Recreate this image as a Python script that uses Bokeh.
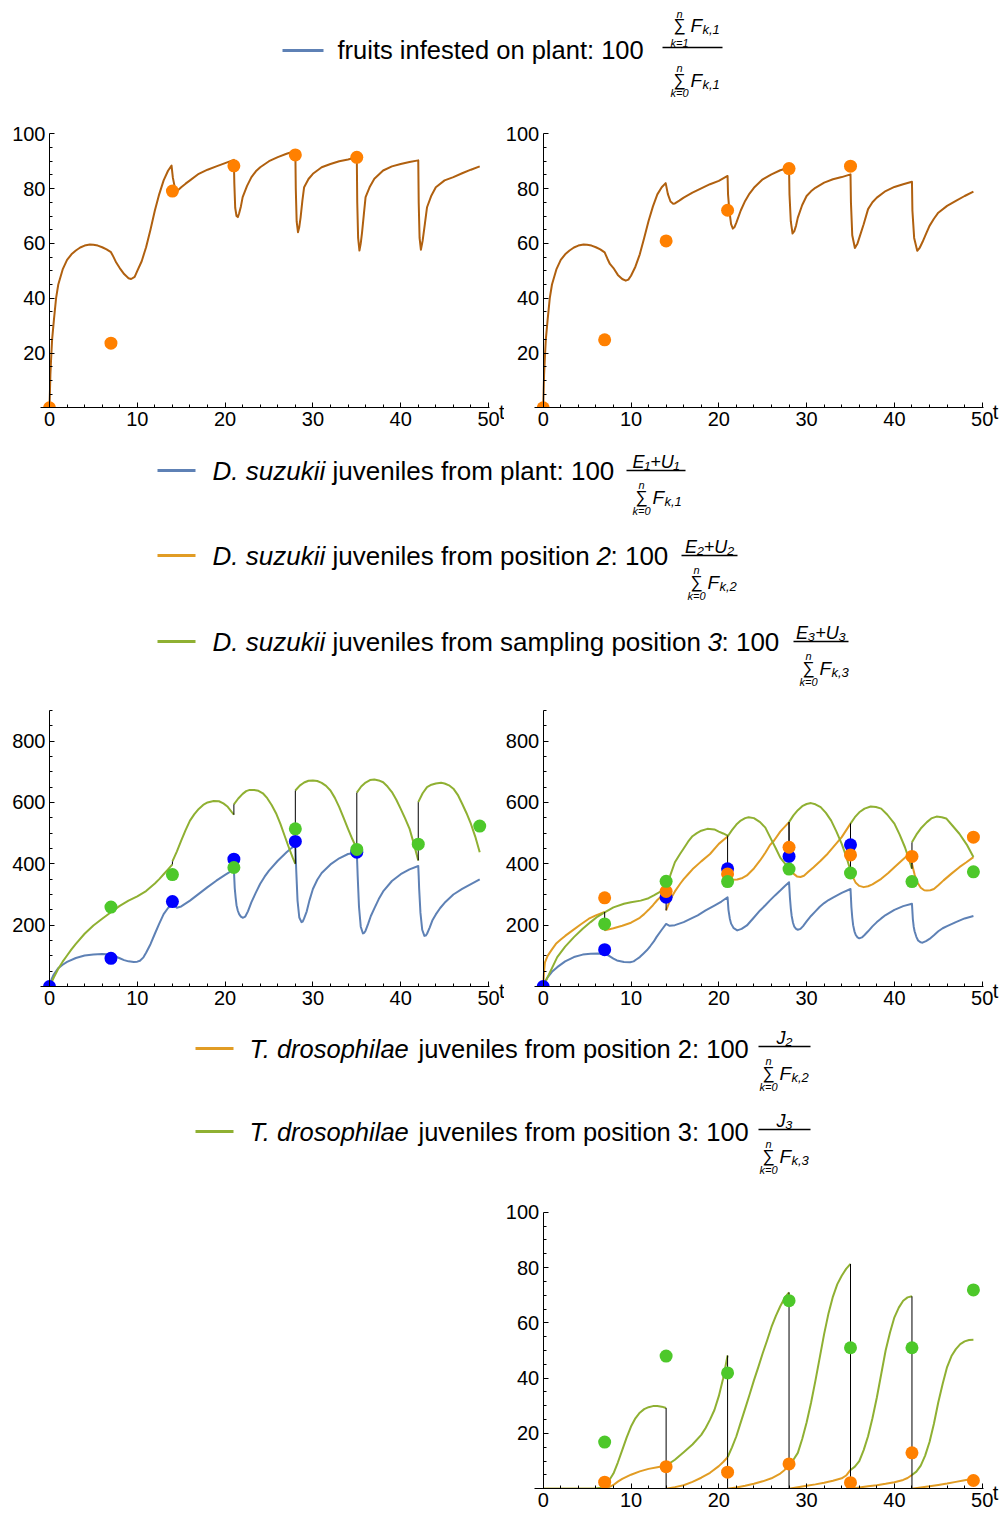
import numpy as np
from bokeh.plotting import figure
from bokeh.models import Range1d, FixedTicker, Label, Spacer
from bokeh.layouts import column, row
from bokeh.core.properties import value
from bokeh.embed import file_html
from bokeh.resources import INLINE

FONT = "Liberation Sans"

BLUE_LINE = "#5E81B5"
ORANGE_LINE = "#E19C24"
GREEN_LINE = "#8FB032"
BROWN_LINE = "#B0600F"
ORANGE_PT = "#FF8000"
BLUE_PT = "#0000FF"
GREEN_PT = "#4DC82A"

# ---------------- ticks ----------------
X_MAJOR = [0, 10, 20, 30, 40, 50]
X_MINOR = [2, 4, 6, 8, 12, 14, 16, 18, 22, 24, 26, 28, 32, 34, 36, 38, 42, 44, 46, 48]
Y100_MAJOR = [20, 40, 60, 80, 100]
Y100_MINOR = [5, 10, 15, 25, 30, 35, 45, 50, 55, 65, 70, 75, 85, 90, 95]
Y900_MAJOR = [200, 400, 600, 800]
Y900_MINOR = [50, 100, 150, 250, 300, 350, 450, 500, 550, 650, 700, 750, 850, 900]

# ---------------- sampling data ----------------
SAMPLE_T6 = [0, 7, 14, 21, 28, 35]
SAMPLE_T7 = [7, 14, 21, 28, 35, 42, 49]

R1L_PTS = [0, 23.6, 79.1, 88.3, 92.3, 91.4]
R1R_PTS = [0, 24.8, 60.9, 72.1, 87.3, 88.2]
R2L_BLUE_PTS = [0, 92, 277, 415, 473, 438]
R2L_GREEN_PTS = [259, 365, 388, 514, 447, 464, 523]
R2R_BLUE_PTS = [0, 120, 291, 384, 424, 462]
R2R_ORANGE_PTS = [289, 310, 367, 454, 429, 424, 487]
R2R_GREEN_PTS = [204, 343, 342, 383, 370, 342, 374]
R3_GREEN_PTS = [16.9, 48, 41.9, 68, 51, 51, 71.9]
R3_ORANGE_PTS = [2.4, 8, 6, 9, 2.2, 13, 3]

# ---------------- model curves (t, value) ----------------
R1L_CURVE = [(0, 0), (0.05, 6), (0.1, 12), (0.2, 19), (0.3, 25), (0.5, 32), (0.75, 40), (1, 45), (1.5, 50.5),
             (2, 54), (2.5, 56), (3, 57.4), (3.5, 58.5), (4, 59.2), (4.6, 59.6), (5, 59.5), (5.5, 59.2),
             (6, 58.6), (6.5, 57.8), (7, 56.8), (7.3, 55), (7.6, 53), (8, 51), (8.5, 48.8), (9, 47.3),
             (9.3, 47), (9.7, 47.8), (10, 50), (10.5, 53.5), (11, 58.6), (11.5, 65), (12, 72), (12.5, 78),
             (13, 83), (13.5, 86.5), (13.9, 88.4), (14.05, 84), (14.3, 80), (14.6, 79.3), (15, 80.5),
             (15.5, 81.8), (16, 83), (17, 85.4), (18, 86.9), (19, 88.1), (20, 89.3), (21, 90.5), (21.05, 82),
             (21.15, 73), (21.3, 70), (21.45, 69.6), (21.6, 71), (21.8, 73.5), (22, 76.9), (22.5, 81),
             (23, 84.2), (23.5, 86.3), (24, 87.8), (25, 90), (26, 91.5), (27, 92.7), (28, 93.7), (28.05, 80),
             (28.15, 68), (28.3, 64.1), (28.45, 66), (28.6, 69.5), (28.8, 75.5), (29, 80.5), (29.5, 83.5),
             (30, 85.4), (31, 87.8), (32, 89), (33, 90), (34, 90.6), (35, 91.5), (35.05, 75), (35.15, 62),
             (35.3, 57.4), (35.45, 60), (35.6, 64), (35.8, 70.5), (36, 76.9), (36.5, 80.8), (37, 83.6),
             (38, 86.6), (39, 88.1), (40, 89), (41, 89.7), (42, 90.3), (42.05, 75), (42.15, 62), (42.3, 57.7),
             (42.5, 61), (42.75, 67), (43, 73.2), (43.5, 77.5), (44, 80.5), (45, 83), (46, 84.2), (47, 85.6),
             (48, 86.9), (49, 88.1)]

R1R_CURVE = [(0, 0), (0.05, 6), (0.1, 12), (0.2, 19), (0.3, 25), (0.5, 32), (0.75, 40), (1, 45), (1.5, 50.5),
             (2, 54), (2.5, 56), (3, 57.4), (3.5, 58.5), (4, 59.2), (4.6, 59.6), (5, 59.5), (5.5, 59.2),
             (6, 58.6), (6.5, 57.8), (7, 56.7), (7.3, 54.5), (7.6, 52.5), (8, 51), (8.5, 48.5), (9, 47),
             (9.4, 46.4), (9.7, 46.8), (10, 48.2), (10.5, 51.5), (11, 56), (11.5, 62), (12, 68.2), (12.5, 73.5),
             (13, 77.9), (13.5, 80.5), (13.95, 82), (14.2, 78), (14.5, 75.3), (14.8, 74.5), (15, 74.6),
             (15.5, 75.6), (16, 76.7), (17, 78.5), (18, 80.1), (19, 81.6), (20, 82.8), (21, 84.6), (21.05, 78),
             (21.2, 72), (21.4, 67), (21.6, 65.4), (21.8, 66), (22, 67.6), (22.5, 72), (23, 75.5), (23.5, 78.2),
             (24, 80.3), (25, 83.4), (26, 85.2), (27, 86.7), (28, 87.6), (28.05, 78), (28.2, 68), (28.4, 63.6),
             (28.6, 64.5), (28.8, 66.5), (29, 69.4), (29.5, 74), (30, 77.3), (30.5, 79), (31, 80.3), (32, 82.2),
             (33, 83.4), (34, 84.2), (35, 85.2), (35.05, 75), (35.2, 63), (35.5, 58.3), (35.8, 60), (36, 62),
             (36.5, 67), (37, 72.5), (37.5, 75), (38, 76.7), (39, 79.1), (40, 80.6), (41, 81.6), (42, 82.5),
             (42.05, 72), (42.25, 62), (42.6, 57.3), (42.9, 58.5), (43.2, 60.5), (43.6, 63.5), (44, 66.4),
             (44.5, 69), (45, 71.2), (46, 73.7), (47, 75.5), (48, 77.3), (49, 78.9)]

R2L_BLUE = [(0, 0), (0.25, 25), (0.5, 40), (1, 60), (1.5, 71), (2, 80), (3, 93), (4, 101), (5, 104), (6, 106),
            (7, 104), (7.5, 98), (8, 92), (8.5, 86), (9, 82), (9.6, 80), (10, 81), (10.3, 84), (10.7, 95),
            (11, 110), (11.5, 138), (12, 172), (12.5, 205), (13, 236), (13.5, 256), (14, 268), (14.5, 257),
            (15, 261), (16, 280), (17, 302), (18, 324), (19, 345), (20, 364), (21, 382), (21.05, 350),
            (21.1, 320), (21.2, 290), (21.3, 265), (21.45, 247), (21.6, 236), (21.8, 228), (22, 224),
            (22.3, 228), (22.6, 245), (23, 275), (23.5, 306), (24, 335), (24.5, 358), (25, 378), (26, 410),
            (27, 438), (27.5, 450), (28, 460), (28.05, 420), (28.1, 380), (28.25, 280), (28.45, 225),
            (28.7, 210), (28.85, 212), (29, 222), (29.3, 245), (29.6, 280), (30, 318), (30.5, 348), (31, 370),
            (32, 398), (33, 418), (34, 432), (35, 437), (35.05, 400), (35.1, 360), (35.25, 260), (35.45, 195),
            (35.7, 173), (35.85, 175), (36, 182), (36.3, 205), (36.6, 230), (37, 255), (37.5, 285), (38, 310),
            (39, 344), (40, 366), (41, 382), (42, 393), (42.05, 360), (42.1, 320), (42.25, 240), (42.45, 185),
            (42.7, 165), (42.85, 166), (43, 172), (43.3, 192), (43.6, 215), (44, 235), (44.5, 256), (45, 273),
            (46, 300), (47, 318), (48, 334), (49, 349)]

R2L_GREEN = [
    [(0, 0), (0.5, 30), (1, 58), (1.5, 81), (2, 101), (2.5, 121), (3, 139), (4, 172), (5, 199), (6, 221),
     (7, 242), (8, 263), (9, 280), (10, 294), (11, 311), (12, 336), (12.5, 350), (13, 366), (13.5, 382),
     (14, 398)],
    [(14, 408), (14.5, 440), (15, 476), (15.5, 510), (16, 541), (16.5, 562), (17, 579), (17.5, 592), (18, 600),
     (18.7, 605), (19.3, 604), (19.8, 597), (20.3, 586), (21, 560)],
    [(21, 594), (21.5, 613), (22, 628), (22.4, 637), (22.8, 641), (23.3, 641), (23.8, 638), (24.3, 630),
     (24.8, 614), (25.3, 592), (25.8, 565), (26.3, 530), (26.8, 490), (27.3, 450), (27.7, 420), (28, 400)],
    [(28, 639), (28.5, 655), (29, 665), (29.5, 671), (30, 672), (30.5, 670), (31, 664), (31.5, 654), (32, 639),
     (32.5, 615), (33, 585), (33.5, 550), (34, 514), (34.5, 480), (35, 449)],
    [(35, 632), (35.5, 652), (36, 665), (36.5, 673), (37, 675), (37.5, 672), (38, 666), (38.5, 652), (39, 634),
     (39.5, 609), (40, 579), (40.5, 548), (41, 515), (41.5, 465), (42, 411)],
    [(42, 601), (42.5, 630), (43, 650), (43.5, 658), (44, 662), (44.6, 664), (45, 662), (45.5, 656), (46, 645),
     (46.5, 625), (47, 596), (47.5, 565), (48, 530), (48.5, 488), (49, 438)],
]

R2R_BLUE = [(0, 0), (0.25, 18), (0.5, 30), (1, 48), (1.6, 63), (2.5, 82), (3.5, 96), (4.5, 104), (5.4, 107),
            (6.3, 108), (7, 107), (7.5, 100), (8, 91), (8.4, 85), (9.2, 80), (9.9, 79), (10.3, 82), (10.6, 88),
            (11, 96), (11.4, 107), (11.8, 118), (12.2, 132), (12.6, 147), (12.9, 161), (13.5, 185), (14, 204),
            (14.4, 198), (15, 200), (16, 210), (17, 224), (17.6, 232), (18.5, 248), (19.5, 264), (20.3, 277),
            (21, 291), (21.05, 270), (21.1, 250), (21.25, 222), (21.4, 205), (21.7, 190), (22.1, 183),
            (22.6, 188), (23.2, 199), (24, 225), (24.7, 248), (25.3, 265), (25.8, 280), (26.4, 297), (27, 313),
            (27.5, 327), (28, 340), (28.05, 315), (28.1, 290), (28.2, 255), (28.3, 230), (28.45, 208),
            (28.6, 195), (28.8, 188), (29, 185), (29.3, 188), (29.6, 197), (30, 212), (30.5, 230), (31, 245),
            (31.5, 260), (32, 272), (32.5, 282), (33, 290), (34, 305), (35, 318), (35.05, 290), (35.1, 260),
            (35.2, 225), (35.3, 200), (35.45, 180), (35.6, 168), (35.8, 160), (36, 157), (36.3, 160),
            (36.6, 168), (37, 180), (37.5, 196), (38, 210), (38.5, 222), (39, 233), (40, 250), (41, 262),
            (42, 270), (42.05, 245), (42.1, 220), (42.2, 195), (42.3, 180), (42.5, 162), (42.7, 150), (43, 144),
            (43.2, 143), (43.6, 148), (44, 155), (44.5, 167), (45, 180), (45.5, 190), (46, 197), (47, 210),
            (48, 222), (49, 230)]

R2R_ORANGE = [
    [(0, 0), (0.1, 50), (0.2, 79), (0.5, 100), (1, 121), (1.45, 139), (2, 153), (2.5, 165), (3.35, 183),
     (4.3, 203), (5.2, 221), (6, 232), (7, 243)],
    [(7, 183), (8, 190), (9, 198), (10, 208), (11, 224), (11.5, 236), (12, 250), (12.5, 265), (13, 282),
     (13.5, 295), (14, 305)],
    [(14, 248), (14.5, 285), (15, 310), (15.6, 335), (16, 350), (16.5, 366), (17, 382), (18, 408), (19, 432),
     (20, 465), (21, 489)],
    [(21, 352), (21.5, 348), (22.1, 349), (22.7, 354), (23.2, 362), (24, 385), (24.7, 411), (25.3, 436),
     (25.8, 460), (26.3, 476), (27, 505), (28, 536)],
    [(28, 389), (28.5, 368), (28.9, 359), (29.3, 357), (29.7, 361), (30.2, 374), (30.8, 389), (31.6, 410),
     (32.4, 433), (33.2, 460), (34, 487), (35, 531)],
    [(35, 378), (35.3, 355), (35.6, 338), (36, 328), (36.5, 324), (37, 327), (37.5, 333), (38.5, 351),
     (39.3, 370), (40, 389), (41, 415), (42, 440)],
    [(42, 400), (42.3, 365), (42.6, 340), (43, 322), (43.4, 314), (43.7, 313), (44.1, 314), (44.5, 318),
     (45, 330), (45.6, 346), (46.5, 368), (47.4, 389), (48.2, 405), (49, 422)],
]

R2R_GREEN = [
    [(0, 0), (0.5, 30), (1, 60), (1.6, 96), (2.5, 130), (3.5, 161), (4.5, 188), (5.4, 210), (6.2, 228),
     (7, 242), (8, 258), (9.2, 270), (10, 275), (11.1, 280), (12, 288), (12.6, 297), (13.5, 312), (14, 325)],
    [(14, 310), (14.5, 365), (15, 405), (15.6, 433), (16, 450), (16.5, 472), (17, 490), (17.5, 500), (18, 508),
     (18.7, 514), (19.5, 512), (20, 505), (20.5, 499), (21, 492)],
    [(21, 489), (21.5, 510), (22, 528), (22.5, 541), (23, 549), (23.4, 552), (24, 549), (24.7, 536),
     (25.3, 518), (26, 478), (26.5, 450), (27, 420), (27.5, 402), (28, 389)],
    [(28, 536), (28.5, 558), (29, 575), (29.5, 588), (30, 595), (30.5, 598), (31, 594), (31.6, 585),
     (32.2, 566), (32.8, 541), (33.4, 505), (34, 465), (34.5, 425), (35, 378)],
    [(35, 531), (35.5, 552), (36, 568), (36.6, 580), (37.3, 587), (37.9, 585), (38.5, 580), (39.2, 560),
     (40, 531), (40.6, 495), (41.2, 454), (41.6, 420), (42, 384)],
    [(42, 470), (42.5, 495), (43, 515), (43.7, 536), (44.2, 548), (44.8, 554), (45.4, 552), (45.9, 548),
     (46.6, 525), (47.4, 498), (48.3, 460), (49, 422)],
]

R3_ORANGE = [
    [(0, 0), (7, 0), (7.5, 0.6), (8, 1.4), (8.5, 2.6), (9, 3.6), (10, 5.1), (11, 6.3), (12, 7.2), (13, 7.8),
     (14, 8.4)],
    [(14, 0), (15, 0.6), (16, 1.3), (17, 2.5), (18, 4), (19, 5.8), (20, 8.2), (20.5, 9.7), (21, 11.4)],
    [(21, 0), (22, 0.5), (23, 1.1), (24, 1.8), (25, 2.7), (26, 3.8), (27, 5.5), (27.5, 6.8), (28, 8.8)],
    [(28, 0), (29, 0.6), (30, 1.1), (31, 1.6), (32, 2.2), (33, 2.9), (34, 3.8), (34.5, 4.8), (35, 6.8)],
    [(35, 0), (36, 0.5), (37, 0.9), (38, 1.3), (39, 1.8), (40, 2.4), (41, 3.2), (41.5, 3.9), (42, 5)],
    [(42, 0), (43, 0.5), (44, 0.9), (45, 1.4), (46, 1.9), (47, 2.5), (48, 3.1), (49, 3.6)],
]

R3_GREEN = [
    [(0, 0), (5.5, 0), (6, 0.1), (6.5, 0.4), (7, 1.2), (7.5, 3), (8, 5.5), (8.5, 9.5), (9, 14), (9.5, 18.5),
     (10, 22.5), (10.5, 25.5), (11, 27.5), (11.5, 28.8), (12, 29.5), (12.5, 29.9), (13, 29.9), (13.5, 29.7),
     (14, 29.2)],
    [(14, 8.4), (15, 10.5), (16, 13.2), (17, 16), (18, 19.5), (18.5, 22), (19, 25), (19.5, 28.5), (20, 33.5),
     (20.5, 40), (21, 48.2)],
    [(21, 11.4), (21.5, 15), (22, 19), (22.5, 24), (23, 29), (23.5, 34), (24, 39.2), (24.5, 44), (25, 49),
     (25.5, 53.6), (26, 58.5), (26.5, 62.5), (27, 66), (27.5, 69), (28, 71)],
    [(28, 8.8), (28.5, 10.5), (29, 13), (29.5, 18), (30, 24), (30.5, 31), (31, 39), (31.5, 47.5), (32, 56),
     (32.5, 63.5), (33, 69.5), (33.5, 74), (34, 77), (34.5, 79.5), (35, 81.3)],
    [(35, 6.8), (35.5, 8), (36, 10), (36.5, 14), (37, 19), (37.5, 25.5), (38, 33), (38.5, 41.5), (39, 50),
     (39.5, 56.5), (40, 62), (40.5, 65.5), (41, 68), (41.5, 69.2), (42, 69.6)],
    [(42, 5), (42.5, 6.2), (43, 8.4), (43.5, 12), (44, 16.9), (44.5, 23.5), (45, 31.3), (45.5, 38), (46, 44),
     (46.5, 48), (47, 50.5), (47.5, 52.3), (48, 53.3), (48.5, 53.8), (49, 53.9)],
]

# ---------------- legend texts ----------------
LEG1_TEXT = "fruits infested on plant: 100"
LEG2_PIECES = [
    [("D. suzukii", "italic"), ("juveniles from plant: 100", "normal")],
    [("D. suzukii", "italic"), ("juveniles from position", "normal"), ("2", "italic"), (": 100", "normal")],
    [("D. suzukii", "italic"), ("juveniles from sampling position", "normal"), ("3", "italic"), (": 100", "normal")],
]
LEG2_NUM = ["E\u2081+U\u2081", "E\u2082+U\u2082", "E\u2083+U\u2083"]
LEG2_SUB = ["k,1", "k,2", "k,3"]
LEG3_PIECES = [
    [("T. drosophilae", "italic"), ("juveniles from position 2: 100", "normal")],
    [("T. drosophilae", "italic"), ("juveniles from position 3: 100", "normal")],
]
LEG3_NUM = ["J\u2082", "J\u2083"]
LEG3_SUB = ["k,2", "k,3"]

PX_T = 8.78  # pixels per day


def make_plot(cw, ch, ox, oy, py, ymax, ymaj, ymin):
    # ox, oy: position of the origin inside the canvas (px from left / top); py: px per y unit
    x0, x1 = -ox / PX_T, (cw - ox) / PX_T
    y0, y1 = -(ch - oy) / py, oy / py
    p = figure(width=cw, height=ch, x_range=Range1d(x0, x1), y_range=Range1d(y0, y1),
               output_backend="svg", toolbar_location=None, title=None, min_border=0)
    p.outline_line_color = None
    p.grid.visible = False
    p.background_fill_color = "white"
    p.border_fill_color = "white"
    xa = p.xaxis[0]
    xa.ticker = FixedTicker(ticks=X_MAJOR, minor_ticks=X_MINOR)
    xa.bounds = (-1.0, 50.1)
    xa.fixed_location = 0
    ya = p.yaxis[0]
    ya.ticker = FixedTicker(ticks=ymaj, minor_ticks=ymin)
    ya.bounds = (0, ymax)
    ya.fixed_location = 0
    for ax in (xa, ya):
        ax.axis_line_color = "black"
        ax.axis_line_width = 1
        ax.major_tick_in = 5
        ax.major_tick_out = 0
        ax.minor_tick_in = 3
        ax.minor_tick_out = 0
        ax.major_tick_line_color = "black"
        ax.minor_tick_line_color = "black"
        ax.major_label_text_font = FONT
        ax.major_label_text_font_size = "20px"
        ax.major_label_text_color = "black"
        ax.major_label_standoff = 4
    p.add_layout(Label(x=51.2, y=0, y_offset=-4, text="t", text_font=FONT, text_font_size="20px",
                       text_baseline="middle", text_align="left", text_color="black"))
    return p


def clip_below_axis(p):
    # emulate the plot-range clipping of the reference: hide what lies below the t-axis
    p.quad(left=[p.x_range.start], right=[p.x_range.end], bottom=[p.y_range.start], top=[0],
           fill_color="white", line_color=None)


def draw_curve(p, pts, color):
    t = [a for a, b in pts]
    v = [b for a, b in pts]
    p.line(t, v, line_color=color, line_width=2, line_join="round")


def draw_segs(p, segs, color):
    for s in segs:
        draw_curve(p, s, color)


def draw_jumps(p, segs):
    xs = [segs[i][-1][0] for i in range(len(segs) - 1)]
    y0 = [segs[i][-1][1] for i in range(len(segs) - 1)]
    y1 = [segs[i + 1][0][1] for i in range(len(segs) - 1)]
    p.segment(x0=xs, y0=y0, x1=xs, y1=y1, line_color="black", line_width=1)


def draw_pts(p, t, v, color):
    p.scatter(t, v, size=13, fill_color=color, line_color=None)


def make_legend_fig(w, h):
    p = figure(width=w, height=h, x_range=Range1d(0, w), y_range=Range1d(h, 0),
               output_backend="svg", toolbar_location=None, title=None,
               x_axis_type=None, y_axis_type=None, min_border=0)
    p.outline_line_color = None
    p.grid.visible = False
    return p


def txt(p, x, y, s, size, style="normal", align="left", baseline="middle", color="black"):
    p.text(x=[x], y=[y], text=[s], text_font=value(FONT), text_font_size=f"{size}px",
           text_font_style=style, text_align=align, text_baseline=baseline, text_color=color)


def sum_block(p, xs, ys, lower, sub, dn=-13, dk=13):
    txt(p, xs, ys + dn, "n", 11, "italic", align="center")
    txt(p, xs, ys, "\u2211", 17, align="center")
    txt(p, xs, ys + dk, lower, 11, "italic", align="center")
    txt(p, xs + 11, ys, "F", 19, "italic")
    txt(p, xs + 23, ys + 4, sub, 13, "italic")


# ---------------- legend 1 ----------------
L1H = 115
leg1 = make_legend_fig(1002, L1H)
leg1.segment(x0=[282], y0=[50], x1=[323], y1=[50], line_color=BLUE_LINE, line_width=3)
txt(leg1, 337, 49, LEG1_TEXT, 25.5)
leg1.segment(x0=[662], y0=[47], x1=[722], y1=[47], line_color="black", line_width=1.3)
sum_block(leg1, 679, 25, "k=1", "k,1", dn=-12, dk=17)
sum_block(leg1, 679, 80, "k=0", "k,1", dn=-13, dk=12)

# ---------------- legend 2 ----------------
L2TOP, L2H = 440, 260
leg2 = make_legend_fig(1002, L2H)
L2_Y = [470, 555, 641]
L2_X = [[212, 332], [212, 332, 596, 610], [212, 332, 707, 721]]
L2_BAR = [(626, 685), (681, 737), (793, 848)]
L2_COL = [BLUE_LINE, ORANGE_LINE, GREEN_LINE]
for i in range(3):
    yc = L2_Y[i] - L2TOP
    leg2.segment(x0=[157], y0=[yc], x1=[195], y1=[yc], line_color=L2_COL[i], line_width=3)
    for (s, st), xx in zip(LEG2_PIECES[i], L2_X[i]):
        txt(leg2, xx, yc, s, 26, st)
    b0, b1 = L2_BAR[i]
    leg2.segment(x0=[b0], y0=[yc], x1=[b1], y1=[yc], line_color="black", line_width=1.3)
    txt(leg2, (b0 + b1) / 2, yc - 9, LEG2_NUM[i], 18, "italic", align="center")
    sum_block(leg2, b0 + 15, yc + 27, "k=0", LEG2_SUB[i])

# ---------------- legend 3 ----------------
L3TOP, L3H = 1015, 175
leg3 = make_legend_fig(1002, L3H)
L3_Y = [1048, 1131]
L3_COL = [ORANGE_LINE, GREEN_LINE]
for i in range(2):
    yc = L3_Y[i] - L3TOP
    leg3.segment(x0=[195], y0=[yc], x1=[233], y1=[yc], line_color=L3_COL[i], line_width=3)
    for (s, st), xx in zip(LEG3_PIECES[i], [249, 418]):
        txt(leg3, xx, yc, s, 25.5, st)
    leg3.segment(x0=[758], y0=[yc - 2], x1=[810], y1=[yc - 2], line_color="black", line_width=1.3)
    txt(leg3, 784, yc - 11, LEG3_NUM[i], 18, "italic", align="center")
    sum_block(leg3, 768, yc + 25, "k=0", LEG3_SUB[i])

# ---------------- row 1 ----------------
p1 = make_plot(504, 325, 49, 292.3, 2.74, 100, Y100_MAJOR, Y100_MINOR)
draw_curve(p1, R1L_CURVE, BROWN_LINE)
draw_pts(p1, SAMPLE_T6, R1L_PTS, ORANGE_PT)
clip_below_axis(p1)

p2 = make_plot(498, 325, 38.7, 292.3, 2.74, 100, Y100_MAJOR, Y100_MINOR)
draw_curve(p2, R1R_CURVE, BROWN_LINE)
draw_pts(p2, SAMPLE_T6, R1R_PTS, ORANGE_PT)
clip_below_axis(p2)

# ---------------- row 2 ----------------
p3 = make_plot(504, 315, 49, 286, 0.3067, 900, Y900_MAJOR, Y900_MINOR)
draw_curve(p3, R2L_BLUE, BLUE_LINE)
draw_segs(p3, R2L_GREEN, GREEN_LINE)
draw_jumps(p3, R2L_GREEN)
draw_pts(p3, SAMPLE_T6, R2L_BLUE_PTS, BLUE_PT)
draw_pts(p3, SAMPLE_T7, R2L_GREEN_PTS, GREEN_PT)
clip_below_axis(p3)

p4 = make_plot(498, 315, 38.7, 286, 0.3067, 900, Y900_MAJOR, Y900_MINOR)
draw_curve(p4, R2R_BLUE, BLUE_LINE)
draw_segs(p4, R2R_ORANGE, ORANGE_LINE)
draw_segs(p4, R2R_GREEN, GREEN_LINE)
draw_jumps(p4, R2R_ORANGE)
draw_jumps(p4, R2R_GREEN)
draw_pts(p4, SAMPLE_T6, R2R_BLUE_PTS, BLUE_PT)
draw_pts(p4, SAMPLE_T7, R2R_ORANGE_PTS, ORANGE_PT)
draw_pts(p4, SAMPLE_T7, R2R_GREEN_PTS, GREEN_PT)
clip_below_axis(p4)

# ---------------- row 3 ----------------
p5 = make_plot(498, 327, 38.7, 298.3, 2.766, 100, Y100_MAJOR, Y100_MINOR)
draw_segs(p5, R3_ORANGE, ORANGE_LINE)
draw_segs(p5, R3_GREEN, GREEN_LINE)
draw_jumps(p5, R3_ORANGE)
draw_jumps(p5, R3_GREEN)
draw_pts(p5, SAMPLE_T7, R3_GREEN_PTS, GREEN_PT)
draw_pts(p5, SAMPLE_T7, R3_ORANGE_PTS, ORANGE_PT)
clip_below_axis(p5)

layout = column(
    leg1,
    row(p1, p2),
    leg2,
    row(p3, p4),
    leg3,
    row(Spacer(width=504, height=327), p5),
)

open("out.html", "w").write(file_html(layout, INLINE))
